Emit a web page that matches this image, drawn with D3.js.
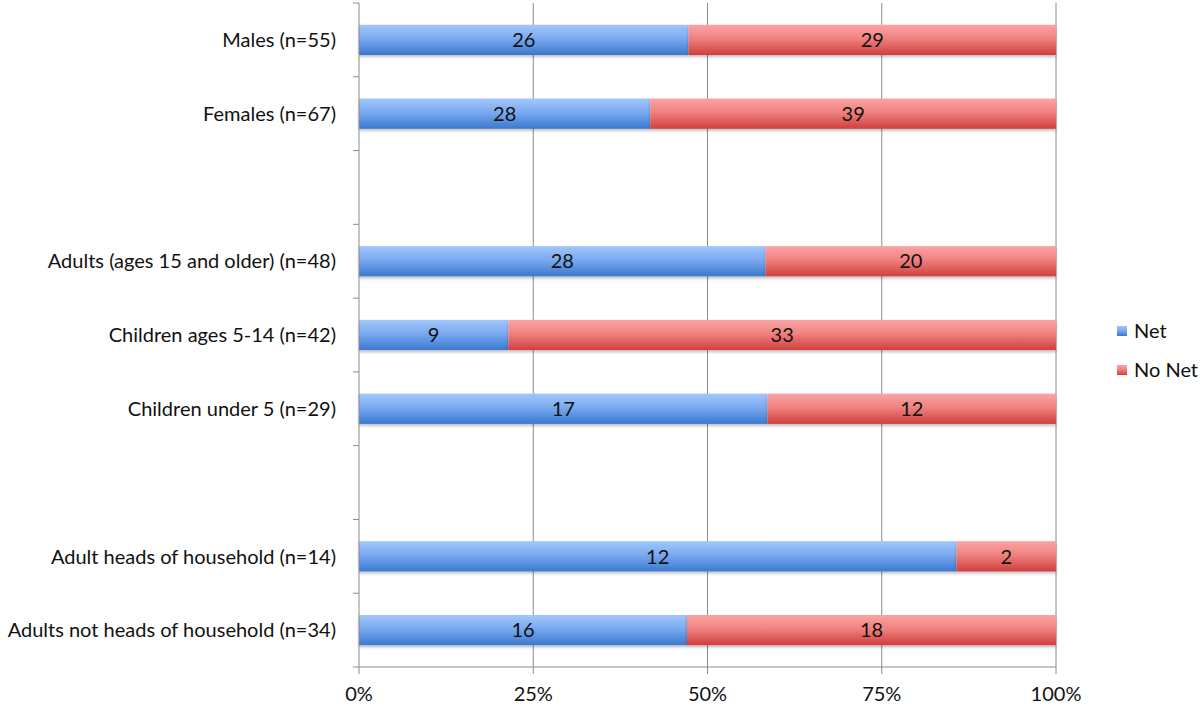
<!DOCTYPE html>
<html><head><meta charset="utf-8">
<script src="https://cdn.jsdelivr.net/npm/d3@7"></script>
<style>body{margin:0;background:#fff}svg{display:block}</style>
</head><body>
<svg id="c" width="1200" height="706"></svg>
<script>
const categories = ["Males (n=55)","Females (n=67)","gap1","Adults (ages 15 and older) (n=48)","Children ages 5-14 (n=42)","Children under 5 (n=29)","gap2","Adult heads of household (n=14)","Adults not heads of household (n=34)"];
const netValues =   [26, 28, null, 28, 9, 17, null, 12, 16];
const noNetValues = [29, 39, null, 20, 33, 12, null, 2, 18];
const seriesNames = ["Net","No Net"];
const xTicks = [0, 0.25, 0.5, 0.75, 1];

const svg = d3.select("#c");
const font = "Lato, 'Open Sans', sans-serif";
const fs = 20;
const m = {left:359, right:1056, top:3, bottom:667};
const x = d3.scaleLinear().domain([0,1]).range([m.left, m.right]);
const y = d3.scaleBand().domain(categories).range([m.top, m.bottom]).paddingInner(0.59).paddingOuter(0.295);
const yTick = d3.scaleLinear().domain([0, categories.length]).range([m.top, m.bottom]);

const defs = svg.append("defs");
function grad(id, stops){
  const g = defs.append("linearGradient").attr("id",id).attr("x1",0).attr("y1",0).attr("x2",0).attr("y2",1);
  stops.forEach(s=>g.append("stop").attr("offset",s[0]).attr("stop-color",s[1]));
}
grad("gNet", [[0,"#a3c6fb"],[0.45,"#7aaaf0"],[1,"#3b78cf"]]);
grad("gNo", [[0,"#fba4a3"],[0.45,"#ef8280"],[1,"#cf3f3d"]]);
const f = defs.append("filter").attr("id","sh").attr("x","-5%").attr("y","-20%").attr("width","110%").attr("height","160%");
f.append("feDropShadow").attr("dx",0).attr("dy",2).attr("stdDeviation",1.5).attr("flood-color","#000").attr("flood-opacity",0.25);

// gridlines
svg.append("g").selectAll("line").data(xTicks.slice(1)).join("line")
  .attr("x1",d=>x(d)).attr("x2",d=>x(d)).attr("y1",m.top).attr("y2",m.bottom)
  .attr("stroke","#8c8c8c").attr("stroke-width",1);

// bars
const rows = categories.map((c,i)=>({c, net:netValues[i], no:noNetValues[i]})).filter(r=>r.net!==null);
const g = svg.append("g");
rows.forEach(r=>{
  const tot = r.net + r.no;
  const p = r.net/tot;
  const yy = y(r.c), h = y.bandwidth();
  g.append("rect").attr("x",x(0)).attr("y",yy).attr("width",x(p)-x(0)).attr("height",h).attr("fill","url(#gNet)").attr("filter","url(#sh)");
  g.append("rect").attr("x",x(p)).attr("y",yy).attr("width",x(1)-x(p)).attr("height",h).attr("fill","url(#gNo)").attr("filter","url(#sh)");
  g.append("text").attr("x",(x(0)+x(p))/2).attr("y",yy+h/2).attr("dy","0.36em").attr("text-anchor","middle")
    .attr("font-family",font).attr("font-size",fs).attr("fill","#111").text(r.net);
  g.append("text").attr("x",(x(p)+x(1))/2).attr("y",yy+h/2).attr("dy","0.36em").attr("text-anchor","middle")
    .attr("font-family",font).attr("font-size",fs).attr("fill","#111").text(r.no);
});

// left axis
const ax = svg.append("g");
ax.append("line").attr("x1",m.left).attr("x2",m.left).attr("y1",m.top).attr("y2",m.bottom).attr("stroke","#8c8c8c");
ax.selectAll("line.t").data(d3.range(categories.length+1)).join("line").attr("class","t")
  .attr("x1",m.left-6).attr("x2",m.left).attr("y1",d=>yTick(d)).attr("y2",d=>yTick(d)).attr("stroke","#8c8c8c");
ax.selectAll("text").data(rows).join("text")
  .attr("x",336).attr("y",d=>y(d.c)+y.bandwidth()/2).attr("dy","0.36em").attr("text-anchor","end")
  .attr("font-family",font).attr("font-size",fs).attr("fill","#111").text(d=>d.c);

// bottom axis
const bx = svg.append("g");
bx.append("line").attr("x1",m.left).attr("x2",m.right).attr("y1",m.bottom).attr("y2",m.bottom).attr("stroke","#8c8c8c");
bx.selectAll("line.t").data(xTicks).join("line").attr("class","t")
  .attr("x1",d=>x(d)).attr("x2",d=>x(d)).attr("y1",m.bottom).attr("y2",m.bottom+7).attr("stroke","#8c8c8c");
bx.selectAll("text").data(xTicks).join("text")
  .attr("x",d=>x(d)).attr("y",694).attr("dy","0.36em").attr("text-anchor","middle")
  .attr("font-family",font).attr("font-size",fs).attr("fill","#111").text(d=>d3.format(".0%")(d));

// legend
const lg = svg.append("g");
seriesNames.forEach((s,i)=>{
  const yy = 331 + i*39;
  lg.append("rect").attr("x",1117).attr("y",yy-5).attr("width",10).attr("height",10).attr("fill",i===0?"url(#gNet)":"url(#gNo)");
  lg.append("text").attr("x",1134).attr("y",yy).attr("dy","0.36em").attr("font-family",font).attr("font-size",fs).attr("fill","#111").text(s);
});
</script>
</body></html>
